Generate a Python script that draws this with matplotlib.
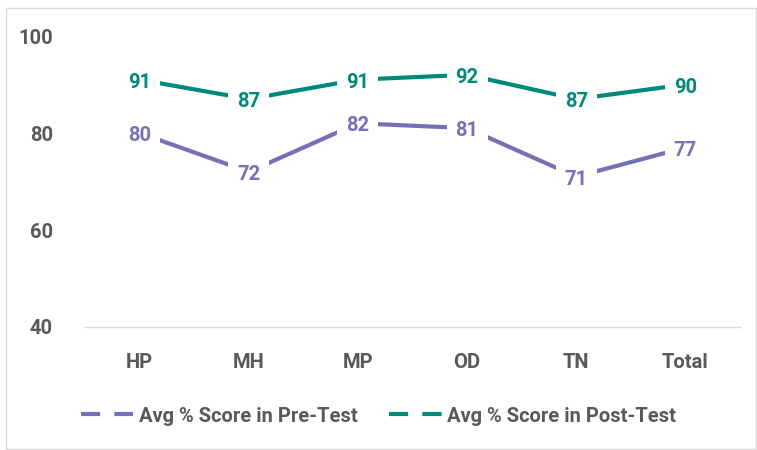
import matplotlib
matplotlib.use("Agg")
import matplotlib.pyplot as plt
from matplotlib.lines import Line2D
from matplotlib.patches import Rectangle

categories = ["HP", "MH", "MP", "OD", "TN", "Total"]
pre_test = [80, 72, 82, 81, 71, 77]
post_test = [91, 87, 91, 92, 87, 90]
series_names = ["Avg % Score in Pre-Test", "Avg % Score in Post-Test"]
yticks = [40, 60, 80, 100]

pre_color = "#7571B5"
post_color = "#00897B"
tick_color = "#595959"

plt.rcParams['font.family'] = ['Roboto', 'DejaVu Sans']

fig = plt.figure(figsize=(7.57, 4.5), dpi=100)
ax = fig.add_axes([85/757, 1 - 327/450, 655/757, (327 - 36)/450])

x = list(range(len(categories)))
for vals, col in [(pre_test, pre_color), (post_test, post_color)]:
    ax.plot(x, vals, color=col, lw=3, solid_capstyle='butt', zorder=2)
    for xi, v in zip(x, vals):
        ax.annotate(str(v), (xi, v), xytext=(0, -1.8), textcoords='offset points',
                    color=col, fontsize=14.5, fontweight='bold',
                    ha='center', va='center', zorder=3,
                    bbox=dict(boxstyle='square,pad=0.45', fc='white', ec='none'))

ax.set_xlim(-0.5, len(categories) - 0.5)
ax.set_ylim(40, 100)
ax.set_yticks(yticks)
ax.set_xticks(x)
ax.set_xticklabels(categories)
for s in ['top', 'right', 'left']:
    ax.spines[s].set_visible(False)
ax.spines['bottom'].set_color('#D9D9D9')
ax.spines['bottom'].set_linewidth(1)
ax.tick_params(axis='both', length=0, colors=tick_color, labelsize=14.5)
ax.tick_params(axis='y', pad=23)
ax.tick_params(axis='x', pad=19)
for lab in ax.get_xticklabels() + ax.get_yticklabels():
    lab.set_fontweight('bold')

handles = [Line2D([0], [0], color=pre_color, lw=3, linestyle=(0, (4.6, 3.4))),
           Line2D([0], [0], color=post_color, lw=3, linestyle=(0, (4.6, 3.4)))]
leg = fig.legend(handles, series_names, loc='center', bbox_to_anchor=(0.5, 1 - 416/450),
                 ncol=2, frameon=False, fontsize=14.5, handlelength=2.6,
                 handletextpad=0.25, columnspacing=1.6)
for t in leg.get_texts():
    t.set_color(tick_color)
    t.set_fontweight('bold')

fig.patches.append(Rectangle((6/757, 0.002), 750/757, 1 - 8/450 - 0.002,
                             transform=fig.transFigure, fill=False,
                             ec='#D9D9D9', lw=1))

fig.savefig("out.png", dpi=100)
